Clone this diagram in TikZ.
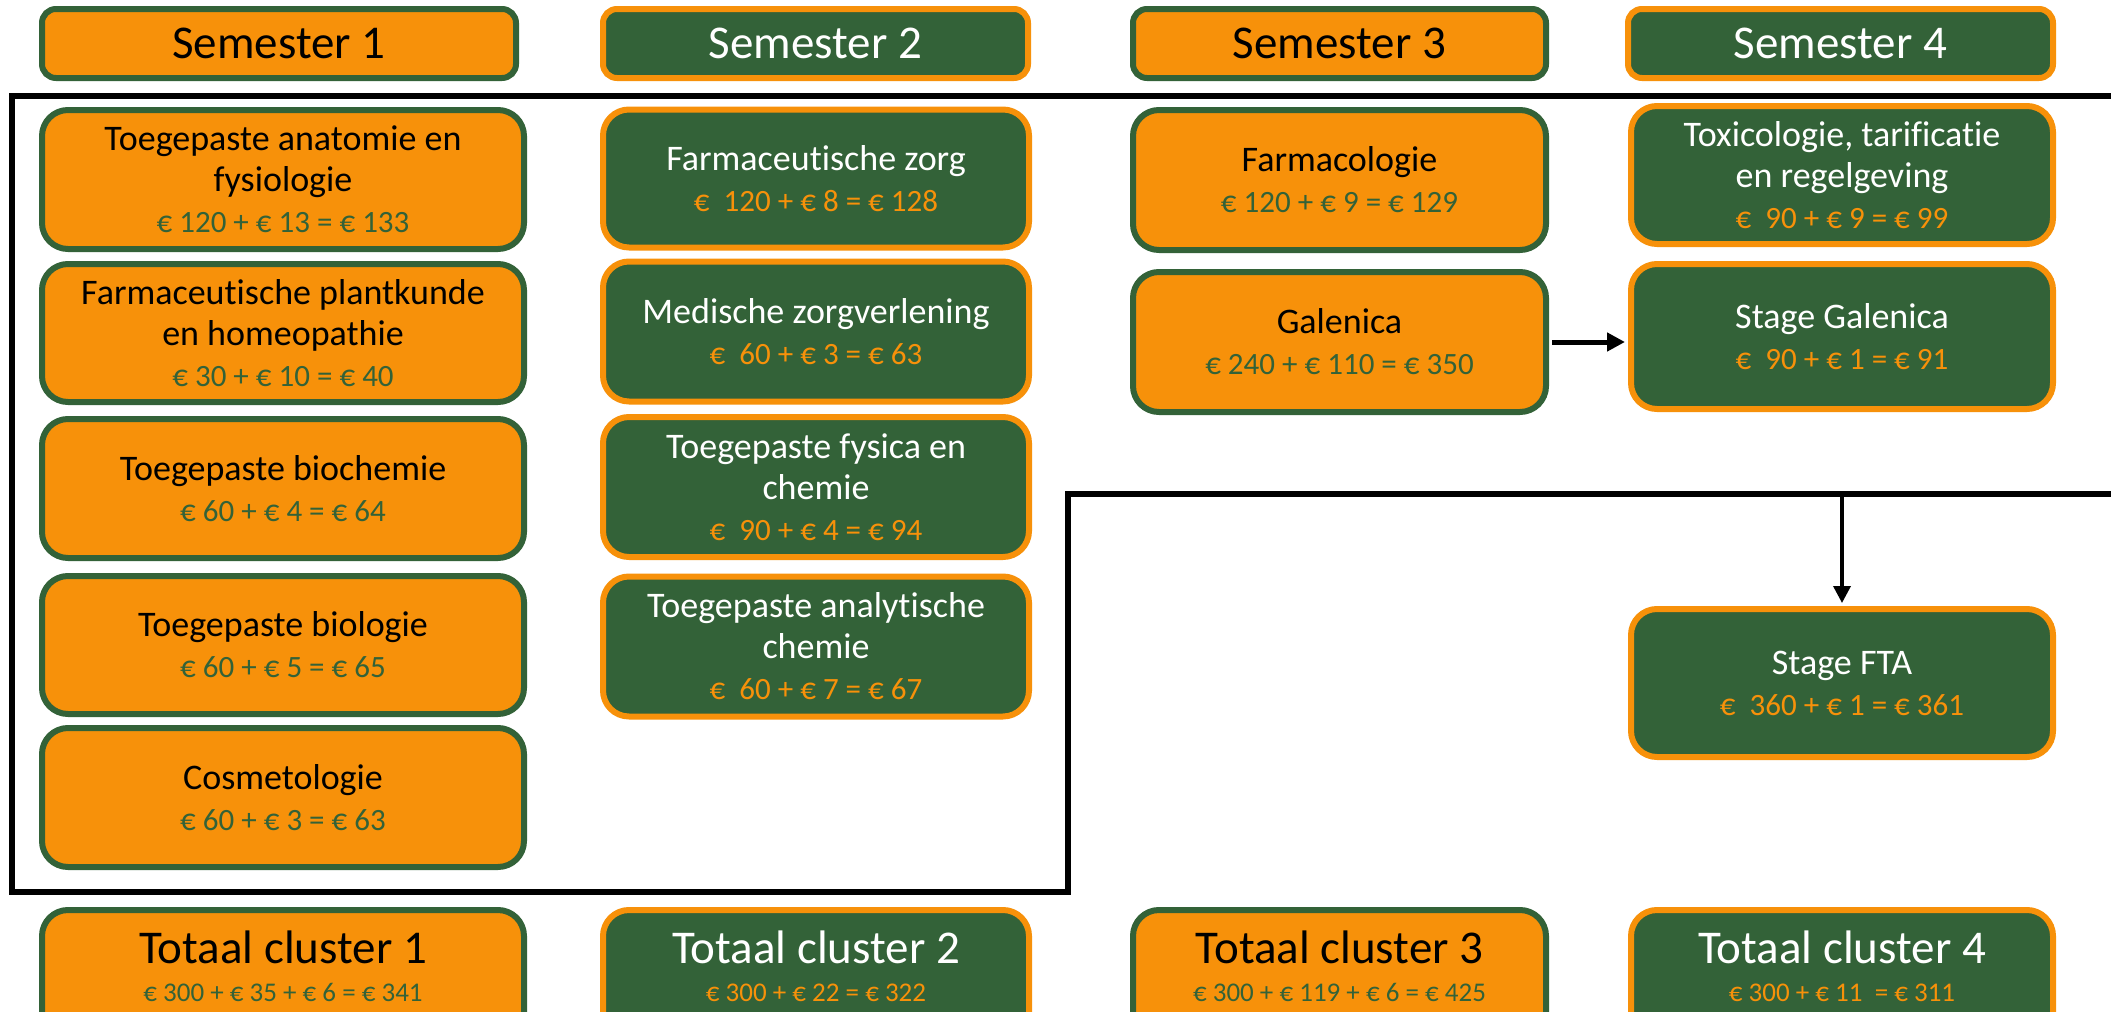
\documentclass[tikz,border=0pt]{standalone}
\usepackage{fontspec}
\setmainfont{Carlito}[RawFeature={-liga;-clig}]
\usetikzlibrary{arrows.meta}
\definecolor{org}{HTML}{F7910A}
\definecolor{grn}{HTML}{336238}
\newcommand\bodyf{\fontsize{18}{20.5}\selectfont}
\newcommand\headf{\fontsize{23.5}{28}\selectfont}
\newcommand\costg[1]{{\fontsize{15.5}{20.5}\selectfont\color{grn}#1}}
\newcommand\costo[1]{{\fontsize{15.5}{20.5}\selectfont\color{org}#1}}
\tikzset{
  obox/.style={draw=grn, fill=org, line width=3pt, rounded corners=13pt, align=center, text=black, font=\bodyf, inner sep=0pt},
  gbox/.style={draw=org, fill=grn, line width=3pt, rounded corners=13pt, align=center, text=white, font=\bodyf, inner sep=0pt},
  ohead/.style={obox, rounded corners=7pt, font=\headf, minimum height=34.5pt},
  ghead/.style={gbox, rounded corners=7pt, font=\headf, minimum height=34.5pt},
  w1/.style={minimum width=241pt},
  w2/.style={minimum width=213pt},
  w3/.style={minimum width=206.5pt},
  w4/.style={minimum width=211pt},
  tottitle/.style={font=\headf, anchor=base, inner sep=0pt},
  totcost/.style={font=\fontsize{13.5}{16}\selectfont, anchor=base, inner sep=0pt},
  frame/.style={draw=black, line width=3pt},
  harrow/.style={draw=black, line width=2.5pt, -{Triangle[length=9pt,width=9pt]}},
  varrow/.style={draw=black, line width=1.75pt, -{Triangle[length=8.5pt,width=8.5pt]}}
}
\begin{document}
\begin{tikzpicture}[x=0.5pt,y=-0.5pt]
\path[use as bounding box] (0,0) rectangle (2111,1012);
\clip (0,0) rectangle (2111,1012);
\fill[white] (0,0) rectangle (2111,1012);

% frame
\draw[frame] (2130,96) -- (12,96) -- (12,892) -- (1068,892) -- (1068,494) -- (2130,494);

% headers
\node[ohead, minimum width=237pt] (h1) at (279,43.5) {Semester 1};
\node[ghead, minimum width=212.5pt] (h2) at (815.5,43.5) {Semester 2};
\node[ohead, w3] (h3) at (1339.5,43.5) {Semester 3};
\node[ghead, minimum width=212.5pt] (h4) at (1840.5,43.5) {Semester 4};

% column 1
\node[obox, w1, minimum height=69.5pt] (a1) at (283,179.5) {Toegepaste anatomie en\\fysiologie\\\costg{€ 120 + € 13 = € 133}};
\node[obox, w1, minimum height=69pt] (a2) at (283,333) {Farmaceutische plantkunde\\en homeopathie\\\costg{€ 30 + € 10 = € 40}};
\node[obox, w1, minimum height=69.5pt] (a3) at (283,488.5) {Toegepaste biochemie\\\costg{€ 60 + € 4 = € 64}};
\node[obox, w1, minimum height=69pt] (a4) at (283,645) {Toegepaste biologie\\\costg{€ 60 + € 5 = € 65}};
\node[obox, w1, minimum height=69.5pt] (a5) at (283,797.5) {Cosmetologie\\\costg{€ 60 + € 3 = € 63}};

% column 2
\node[gbox, w2, minimum height=69pt] (b1) at (816,178.5) {Farmaceutische zorg\\\costo{€~~120 + € 8 = € 128}};
\node[gbox, w2, minimum height=70pt] (b2) at (816,331.5) {Medische zorgverlening\\\costo{€~~60 + € 3 = € 63}};
\node[gbox, w2, minimum height=70pt] (b3) at (816,487) {Toegepaste fysica en\\chemie\\\costo{€~~90 + € 4 = € 94}};
\node[gbox, w2, minimum height=70pt] (b4) at (816,646.5) {Toegepaste analytische\\chemie\\\costo{€~~60 + € 7 = € 67}};

% column 3
\node[obox, w3, minimum height=70pt] (c1) at (1339.5,180) {Farmacologie\\\costg{€ 120 + € 9 = € 129}};
\node[obox, w3, minimum height=70pt] (c2) at (1339.5,342) {Galenica\\\costg{€ 240 + € 110 = € 350}};

% column 4
\node[gbox, w4, minimum height=69pt] (d1) at (1842,175) {Toxicologie, tarificatie\\en regelgeving\\\costo{€~~90 + € 9 = € 99}};
\node[gbox, w4, minimum height=72.5pt] (d2) at (1842,336.5) {Stage Galenica\\\costo{€~~90 + € 1 = € 91}};
\node[gbox, w4, minimum height=74pt] (d3) at (1842,683) {Stage FTA\\\costo{€~~360 + € 1 = € 361}};

% totals
\node[obox, w1, minimum height=65pt] (t1) at (283,975) {};
\node[gbox, w2, minimum height=65pt] (t2) at (816,975) {};
\node[obox, w3, minimum height=65pt] (t3) at (1339.5,975) {};
\node[gbox, w4, minimum height=65pt] (t4) at (1842,975) {};
\node[tottitle, text=black] (t1a) at (283,963) {Totaal cluster 1};
\node[totcost, text=grn] (t1b) at (283,1001) {€ 300 + € 35 + € 6 = € 341};
\node[tottitle, text=white] (t2a) at (816,963) {Totaal cluster 2};
\node[totcost, text=org] (t2b) at (816,1001) {€ 300 + € 22 = € 322};
\node[tottitle, text=black] (t3a) at (1339.5,963) {Totaal cluster 3};
\node[totcost, text=grn] (t3b) at (1339.5,1001) {€ 300 + € 119 + € 6 = € 425};
\node[tottitle, text=white] (t4a) at (1842,963) {Totaal cluster 4};
\node[totcost, text=org] (t4b) at (1842,1001) {€ 300 + € 11~~= € 311};

% connectors
\coordinate (ftain) at (1842,494);
\draw[harrow, shorten <=1.5pt, shorten >=1.5pt] (c2.east) -- (c2.east -| d2.west);
\draw[varrow, shorten >=1.5pt] (ftain) -- (d3.north);
\end{tikzpicture}
\end{document}
